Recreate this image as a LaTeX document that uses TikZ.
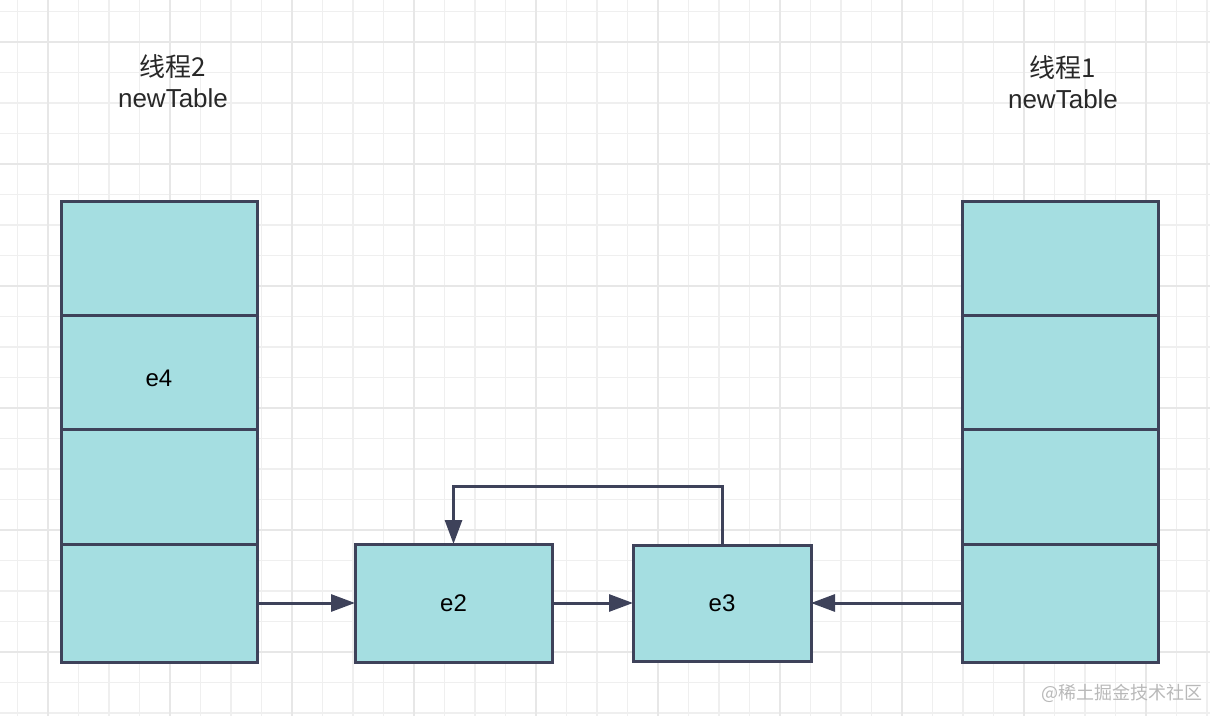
\documentclass[tikz,border=0pt]{standalone}
\usepackage{fontspec}
\setmainfont{Liberation Sans}
\newfontfamily\cjk{Noto Sans CJK SC}
\usetikzlibrary{arrows.meta,calc}
\definecolor{cellfill}{RGB}{165,222,225}
\definecolor{edgecol}{RGB}{62,66,90}
\definecolor{gridminor}{RGB}{239,239,239}
\definecolor{gridmajor}{RGB}{231,231,231}
\definecolor{wmark}{RGB}{185,185,185}
\definecolor{titlecol}{RGB}{40,40,40}
\tikzset{
  cell/.style={draw=edgecol, fill=cellfill, line width=1.5pt, minimum width=98pt,
    minimum height=57pt, inner sep=0pt, outer sep=0pt, font=\fontsize{12}{14}\selectfont},
  arr/.style={draw=edgecol, line width=1.5pt, -{Triangle[length=12pt,width=8.5pt]}},
  titlenode/.style={align=center, font=\fontsize{13}{15.5}\selectfont, text=titlecol},
  minorline/.style={draw=gridminor, line width=0.55pt},
  majorline/.style={draw=gridmajor, line width=0.8pt}
}
\begin{document}
\begin{tikzpicture}[x=0.5pt,y=-0.5pt]
\useasboundingbox (0,0) rectangle (1210,716);
\fill[white] (0,0) rectangle (1210,716);
% grid
\foreach \x in {17.5,48,...,1210} \draw[minorline] (\x,0) -- (\x,716);
\foreach \y in {11.5,42,...,716} \draw[minorline] (0,\y) -- (1210,\y);
\foreach \x in {48,170,...,1210} \draw[majorline] (\x,0) -- (\x,716);
\foreach \y in {42,164,...,716} \draw[majorline] (0,\y) -- (1210,\y);

% titles
\node[titlenode] (t2) at (173,81) {{\cjk 线程2}\\newTable};
\node[titlenode] (t1) at (1063,82) {{\cjk 线程1}\\newTable};

% left table
\node[cell] (L1) at (159,259) {};
\node[cell] (L2) at (159,373) {\raisebox{-6.6pt}[0pt][0pt]{e4}};
\node[cell] (L3) at (159,487) {};
\node[cell, minimum height=59pt] (L4) at (159,603) {};

% right table
\node[cell] (R1) at (1060,259) {};
\node[cell] (R2) at (1060,373) {};
\node[cell] (R3) at (1060,487) {};
\node[cell, minimum height=59pt] (R4) at (1060,603) {};

% entries
\node[cell, minimum width=98.5pt, minimum height=59pt] (e2) at (453.5,603) {e2};
\node[cell, minimum width=89pt, minimum height=58pt] (e3) at (722,603) {e3};

% connectors
\coordinate (top) at (0,486);
\draw[arr] (L4.east) -- (e2.west);
\draw[arr] (e2.east) -- (e3.west);
\draw[arr] (R4.west) -- (e3.east);
\draw[arr] (e3.north) -- (e3.north |- top) -| (e2.north);

% watermark
\node[anchor=east, inner sep=0pt, text=wmark, font=\cjk\fontsize{9}{10}\selectfont] (wm) at (1203,693) {@稀土掘金技术社区};
\end{tikzpicture}
\end{document}
